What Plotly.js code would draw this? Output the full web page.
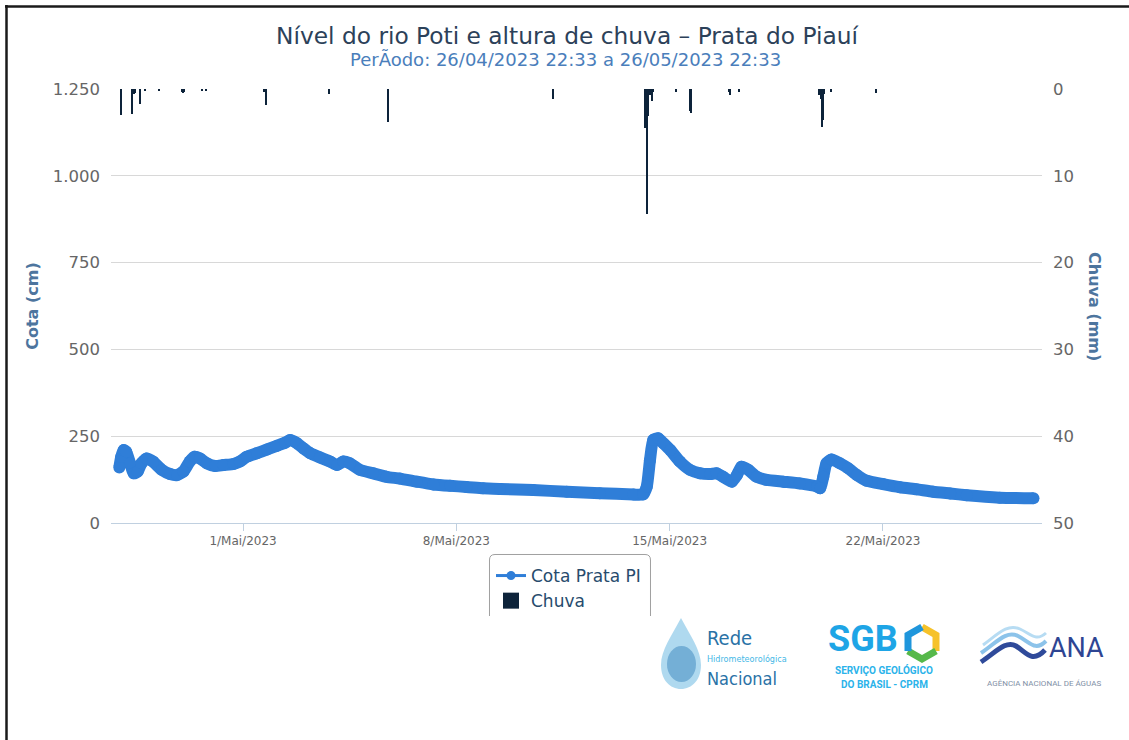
<!DOCTYPE html>
<html>
<head>
<meta charset="utf-8">
<script src="https://cdn.plot.ly/plotly-3.0.1.min.js"></script>
<style>html,body{margin:0;padding:0;background:#fff;}#chart{width:1129px;height:740px;}</style>
</head>
<body>
<div id="chart"></div>
<script>
// ---- Data ----
const cotaTimes = [
'2023-04-26 22:33','2023-04-27 00:00','2023-04-27 02:00','2023-04-27 04:00','2023-04-27 07:00',
'2023-04-27 10:00','2023-04-27 13:00','2023-04-27 16:00','2023-04-27 20:00','2023-04-28 01:00',
'2023-04-28 08:00','2023-04-28 14:30','2023-04-28 20:00','2023-04-29 01:00','2023-04-29 06:00',
'2023-04-29 10:00','2023-04-29 14:00','2023-04-29 19:30','2023-04-30 02:00','2023-04-30 08:30',
'2023-04-30 16:30','2023-04-30 21:30','2023-05-01 03:00','2023-05-01 11:00','2023-05-01 19:00',
'2023-05-02 02:30','2023-05-02 09:00','2023-05-02 13:00','2023-05-02 18:00','2023-05-02 23:30',
'2023-05-03 05:00','2023-05-03 12:30','2023-05-03 20:30','2023-05-04 02:00','2023-05-04 07:00',
'2023-05-04 12:00','2023-05-04 20:00','2023-05-05 06:30','2023-05-05 17:00','2023-05-06 03:30',
'2023-05-06 17:00','2023-05-07 06:00','2023-05-07 19:00','2023-05-08 08:00','2023-05-08 21:00',
'2023-05-09 10:30','2023-05-10 12:30','2023-05-11 15:00','2023-05-12 17:00','2023-05-13 19:30',
'2023-05-14 03:00','2023-05-14 06:00','2023-05-14 08:30','2023-05-14 11:00','2023-05-14 15:00',
'2023-05-14 19:00','2023-05-15 00:30','2023-05-15 08:00','2023-05-15 16:00','2023-05-16 00:00',
'2023-05-16 08:00','2023-05-16 13:00','2023-05-16 18:00','2023-05-17 01:00','2023-05-17 05:00',
'2023-05-17 08:30','2023-05-17 14:00','2023-05-17 20:30','2023-05-18 04:30','2023-05-18 17:30',
'2023-05-19 06:30','2023-05-19 20:00','2023-05-19 22:30','2023-05-20 01:00','2023-05-20 03:30',
'2023-05-20 07:30','2023-05-20 14:00','2023-05-20 20:30','2023-05-21 03:30','2023-05-21 11:00',
'2023-05-22 00:00','2023-05-22 13:30','2023-05-23 02:30','2023-05-23 15:30','2023-05-24 05:00',
'2023-05-24 18:00','2023-05-25 20:00','2023-05-26 22:33'
];
const cotaValues = [
160,190,210,205,172,
143,148,172,186,177,
153,141,138,148,177,
191,186,172,164,167,
170,177,191,201,212,
222,231,239,231,215,
201,189,177,167,177,
172,153,143,133,128,
119,111,107,104,100,
98,95,90,86,82,
82,105,181,239,244,
230,210,177,153,143,
141,143,133,119,138,
162,153,133,124,119,
114,105,100,133,172,
183,172,158,138,122,
112,103,97,90,85,
80,73,71
];
const chuvaTimes = [
'2023-04-27 00:00','2023-04-27 09:00','2023-04-27 10:00','2023-04-27 11:00','2023-04-27 15:00',
'2023-04-27 19:00','2023-04-28 06:00','2023-04-29 00:00','2023-04-29 01:00','2023-04-29 02:00',
'2023-04-29 16:00','2023-04-29 19:00','2023-05-01 17:00','2023-05-01 18:00','2023-05-03 20:00',
'2023-05-05 18:00','2023-05-11 04:00','2023-05-14 05:00','2023-05-14 06:00','2023-05-14 07:00',
'2023-05-14 08:00','2023-05-14 09:00','2023-05-14 10:00','2023-05-14 11:00','2023-05-15 05:00',
'2023-05-15 16:00','2023-05-15 17:00','2023-05-16 23:00','2023-05-17 00:00','2023-05-17 07:00',
'2023-05-19 22:00','2023-05-19 23:00','2023-05-20 00:00','2023-05-20 01:00','2023-05-20 02:00',
'2023-05-20 07:00','2023-05-21 19:00'
];
const chuvaValues = [
3.0,2.9,0.6,0.5,1.7,
0.2,0.2,0.4,0.5,0.3,
0.2,0.2,0.3,1.9,0.6,
3.8,1.1,4.5,14.4,3.1,
0.7,0.7,1.4,0.3,0.3,
2.5,2.8,0.3,0.7,0.4,
0.7,1.2,4.4,3.6,0.6,
0.4,0.5
];
const xTickVals = ['2023-05-01','2023-05-08','2023-05-15','2023-05-22'];
const xTickText = ['1/Mai/2023','8/Mai/2023','15/Mai/2023','22/Mai/2023'];
const cotaTicks = [0,250,500,750,1000,1250];
const chuvaTicks = [0,10,20,30,40,50];
const seriesNames = ['Cota Prata PI','Chuva'];

// ---- Layout helpers (pixel -> paper) ----
const L = 111, R = 1042, T = 89, B = 523;
const px = x => (x - L) / (R - L);
const py = y => (B - y) / (B - T);
const P = (x, y) => px(x).toFixed(5) + ',' + py(y).toFixed(5);

const FONT = 'DejaVu Sans, Verdana, sans-serif';
const NARROW = 'DejaVu Sans Condensed, Roboto, sans-serif';
const BLUE = '#2f7ed8', NAVY = '#0d233a';

const traces = [
  {
    x: cotaTimes, y: cotaValues, type: 'scatter', mode: 'lines+markers',
    name: seriesNames[0], legendgroup: 'cota', showlegend: false,
    line: {color: BLUE, width: 12, shape: 'spline', smoothing: 0.5}, marker: {color: BLUE, size: 12},
    xaxis: 'x', yaxis: 'y', hoverinfo: 'x+y'
  },
  {
    x: chuvaTimes, y: chuvaValues, type: 'bar', base: 0,
    name: seriesNames[1], legendgroup: 'chuva', showlegend: false,
    width: 4000000, marker: {color: NAVY, line: {width: 0}},
    xaxis: 'x', yaxis: 'y2', hoverinfo: 'x+y'
  },
  // legend entries
  {
    x: [null], y: [null], type: 'scatter', mode: 'lines+markers',
    name: seriesNames[0], legendgroup: 'cota',
    line: {color: BLUE, width: 3}, marker: {color: BLUE, size: 9},
    xaxis: 'x', yaxis: 'y'
  },
  {
    x: [null], y: [null], type: 'scatter', mode: 'markers',
    name: seriesNames[1], legendgroup: 'chuva',
    marker: {color: NAVY, size: 16, symbol: 'square'},
    xaxis: 'x', yaxis: 'y2'
  }
];

function seg(points) {
  return 'M' + points.map(p => P(p[0], p[1])).join(' L');
}

const shapes = [
  // outer frame (top & left)
  {type: 'line', xref: 'paper', yref: 'paper', x0: px(5), x1: px(1129), y0: py(6.5), y1: py(6.5), line: {color: '#1a1a1a', width: 2.5}},
  {type: 'line', xref: 'paper', yref: 'paper', x0: px(6.5), x1: px(6.5), y0: py(5), y1: py(740), line: {color: '#1a1a1a', width: 2.5}},
  // legend box (clipped at bottom)
  {type: 'path', xref: 'paper', yref: 'paper', layer: 'above',
   path: 'M' + P(489.5, 616) + ' L' + P(489.5, 560) + ' Q' + P(489.5, 554.5) + ' ' + P(495, 554.5) +
         ' L' + P(645, 554.5) + ' Q' + P(650.5, 554.5) + ' ' + P(650.5, 560) + ' L' + P(650.5, 616),
   line: {color: '#a0a0a0', width: 1}},
  // Rede logo drop
  {type: 'path', xref: 'paper', yref: 'paper',
   path: 'M' + P(681, 618) + ' C' + P(672, 635) + ' ' + P(661, 650) + ' ' + P(661, 665) +
         ' C' + P(661, 680) + ' ' + P(670, 689) + ' ' + P(681, 689) +
         ' C' + P(692, 689) + ' ' + P(701, 680) + ' ' + P(701, 665) +
         ' C' + P(701, 650) + ' ' + P(690, 635) + ' ' + P(681, 618) + ' Z',
   fillcolor: 'rgba(110,185,225,0.55)', line: {width: 0}},
  {type: 'circle', xref: 'paper', yref: 'paper', x0: px(667), x1: px(696), y0: py(646), y1: py(682),
   fillcolor: 'rgba(45,125,185,0.45)', line: {width: 0}},
  // SGB hexagon ring
  {type: 'path', xref: 'paper', yref: 'paper', path: seg([[922,627],[936,635],[936,651]]), line: {color: '#f6c22a', width: 7}},
  {type: 'path', xref: 'paper', yref: 'paper', path: seg([[936,651],[922,659],[908,651]]), line: {color: '#56b84a', width: 7}},
  {type: 'path', xref: 'paper', yref: 'paper', path: seg([[908,651],[908,635],[922,627]]), line: {color: '#1f96dc', width: 7}},
  // ANA waves
  {type: 'path', xref: 'paper', yref: 'paper',
   path: 'M' + P(981, 662) + ' C' + P(996, 652) + ' ' + P(1006, 640) + ' ' + P(1016, 646) + ' C' + P(1026, 652) + ' ' + P(1032, 664) + ' ' + P(1045, 650),
   line: {color: '#2f4a9a', width: 5}},
  {type: 'path', xref: 'paper', yref: 'paper',
   path: 'M' + P(981, 653) + ' C' + P(996, 643) + ' ' + P(1006, 630) + ' ' + P(1018, 636) + ' C' + P(1030, 642) + ' ' + P(1035, 652) + ' ' + P(1046, 641),
   line: {color: '#8cc3ea', width: 4}},
  {type: 'path', xref: 'paper', yref: 'paper',
   path: 'M' + P(983, 645) + ' C' + P(997, 635) + ' ' + P(1007, 623) + ' ' + P(1020, 629) + ' C' + P(1031, 634) + ' ' + P(1036, 642) + ' ' + P(1046, 633),
   line: {color: '#b7dcf3', width: 3}}
];

const ann = (text, x, y, size, color, extra, family) => Object.assign({
  text: text, xref: 'paper', yref: 'paper', x: px(x), y: py(y), showarrow: false,
  xanchor: 'center', yanchor: 'middle', font: {family: family || FONT, size: size, color: color}
}, extra || {});

const annotations = [
  ann('PerÃodo: 26/04/2023 22:33 a 26/05/2023 22:33', 565, 60, 18, '#4a7ebb'),
  ann('<b>Chuva (mm)</b>', 1095, 306, 16, '#4d759e', {textangle: 90}),
  // logos
  ann('Rede', 705, 638, 20, '#2a72a6', {xanchor: 'left'}, NARROW),
  ann('Hidrometeorológica', 705, 659, 9, '#45b8e6', {xanchor: 'left'}, NARROW),
  ann('Nacional', 705, 678, 18, '#2a72a6', {xanchor: 'left'}, NARROW),
  ann('<b>SGB</b>', 826, 639, 36, '#1ea5e6', {xanchor: 'left'}, 'Roboto, sans-serif'),
  ann('<b>SERVIÇO GEOLÓGICO</b>', 884, 670, 10, '#2bb3ea', {}, 'Roboto, sans-serif'),
  ann('<b>DO BRASIL - CPRM</b>', 884, 684, 10, '#2bb3ea', {}, 'Roboto, sans-serif'),
  ann('ANA', 1047, 648, 27, '#2e4593', {xanchor: 'left'}, 'Roboto, sans-serif'),
  ann('AGÊNCIA NACIONAL DE ÁGUAS', 1044, 683, 8, '#7f8fa6', {}, 'Roboto, sans-serif')
];

const layout = {
  width: 1129, height: 740, autosize: false,
  margin: {l: L, r: 1129 - R, t: T, b: 740 - B, pad: 0},
  paper_bgcolor: '#ffffff', plot_bgcolor: '#ffffff',
  separators: ',.',
  font: {family: FONT, color: '#666666'},
  title: {
    text: 'Nível do rio Poti e altura de chuva – Prata do Piauí',
    xref: 'container', yref: 'container', x: 567 / 1129, y: 1 - 36 / 740,
    xanchor: 'center', yanchor: 'middle',
    font: {family: FONT, size: 23.3, color: '#2c4159'}
  },
  xaxis: {
    type: 'date', range: ['2023-04-26 16:00', '2023-05-27 05:15'],
    tickmode: 'array', tickvals: xTickVals, ticktext: xTickText,
    ticks: 'outside', ticklen: 7, tickcolor: '#C0D0E0', tickwidth: 1,
    showline: true, linecolor: '#C0D0E0', linewidth: 1,
    showgrid: false, zeroline: false,
    tickfont: {family: FONT, size: 12, color: '#666666'}
  },
  yaxis: {
    range: [0, 1250], tickmode: 'array', tickvals: cotaTicks, tickformat: ',d',
    showgrid: true, gridcolor: '#D8D8D8', gridwidth: 1, zeroline: false, showline: false,
    ticks: '', ticklabelstandoff: 10,
    tickfont: {family: FONT, size: 16.5, color: '#666666'},
    title: {text: '<b>Cota (cm)</b>', standoff: 10, font: {family: FONT, size: 16, color: '#4d759e'}}
  },
  yaxis2: {
    overlaying: 'y', side: 'right', range: [50, 0],
    tickmode: 'array', tickvals: chuvaTicks,
    showgrid: false, zeroline: false, showline: false, ticks: '', ticklabelstandoff: 10,
    tickfont: {family: FONT, size: 16.5, color: '#666666'}
  },
  bargap: 0,
  showlegend: true,
  legend: {
    x: px(491), y: py(558), xanchor: 'left', yanchor: 'top',
    bgcolor: 'rgba(0,0,0,0)', borderwidth: 0, orientation: 'v',
    tracegroupgap: 0, itemclick: 'toggle',
    font: {family: FONT, size: 17, color: '#274b6d'}
  },
  shapes: shapes,
  annotations: annotations
};

Plotly.newPlot('chart', traces, layout, {displayModeBar: false, responsive: false});
</script>
</body>
</html>
